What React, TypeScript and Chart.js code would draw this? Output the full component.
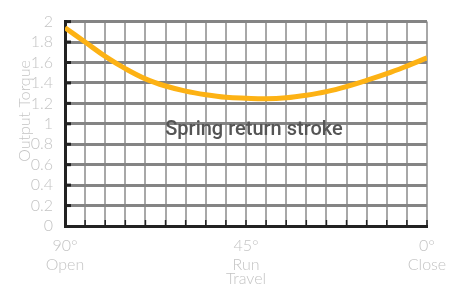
import React, { useEffect, useRef } from "react";
import { Chart, registerables } from "chart.js";

Chart.register(...registerables);

const angles = [90, 85, 80, 75, 70, 65, 60, 55, 50, 45, 40, 35, 30, 25, 20, 15, 10, 5, 0];
const torque = [1.94, 1.8, 1.66, 1.54, 1.44, 1.37, 1.32, 1.285, 1.26, 1.25, 1.245, 1.255, 1.28, 1.315, 1.365, 1.425, 1.49, 1.565, 1.645];
const xTickLabels: Record<number, string[]> = {
  90: ["90°", "Open"],
  45: ["45°", "Run"],
  0: ["0°", "Close"],
};
const yTitle = "Output Torque";
const xTitle = "Travel";
const centerText = "Spring return stroke";

const LIGHT = "#c4c4c4";
const FONT = "Lato";

const overlayPlugin = {
  id: "overlay",
  afterDatasetsDraw(chart: any) {
    const { ctx, chartArea, scales } = chart;
    ctx.save();
    ctx.strokeStyle = "#222";
    ctx.lineWidth = 3;
    scales.y.ticks.forEach((t: any) => {
      const y = scales.y.getPixelForValue(t.value);
      if (t.value === 0) return;
      ctx.beginPath();
      ctx.moveTo(chartArea.left, y);
      ctx.lineTo(chartArea.left + 6, y);
      ctx.stroke();
    });
    ctx.lineWidth = 1.5;
    scales.x.ticks.forEach((t: any) => {
      const x = scales.x.getPixelForValue(t.value);
      ctx.beginPath();
      ctx.moveTo(x, chartArea.bottom);
      ctx.lineTo(x, chartArea.bottom - 6);
      ctx.stroke();
    });
    ctx.restore();
  },
  afterDraw(chart: any) {
    const { ctx, chartArea } = chart;
    ctx.save();
    ctx.font = "500 20px Roboto";
    ctx.fillStyle = "#555";
    ctx.textAlign = "center";
    ctx.textBaseline = "alphabetic";
    ctx.fillText(centerText, (chartArea.left + chartArea.right) / 2 + 8, 135);
    // y axis title
    ctx.translate(25, 111);
    ctx.rotate(-Math.PI / 2);
    ctx.font = `300 16px ${FONT}`;
    ctx.fillStyle = LIGHT;
    ctx.textBaseline = "middle";
    ctx.fillText(yTitle, 0, 0);
    ctx.restore();
  },
};

export default function App() {
  const ref = useRef<HTMLCanvasElement>(null);
  useEffect(() => {
    const chart = new Chart(ref.current!, {
      type: "line",
      data: {
        datasets: [
          {
            data: angles.map((a, i) => ({ x: a, y: torque[i] })),
            borderColor: "#fdb214",
            borderWidth: 5,
            pointRadius: 0,
            fill: false,
            tension: 0.4,
          },
        ],
      },
      options: {
        animation: false,
        responsive: false,
        maintainAspectRatio: false,
        layout: { padding: { top: 13, right: 33, left: 0, bottom: 0 } },
        plugins: { legend: { display: false }, tooltip: { enabled: false } },
        scales: {
          x: {
            type: "linear",
            reverse: true,
            min: 0,
            max: 90,
            afterFit: (s: any) => {
              s.height = 62;
            },
            ticks: {
              stepSize: 5,
              autoSkip: false,
              maxRotation: 0,
              padding: 10,
              color: LIGHT,
              font: { family: FONT, size: 16, weight: "300" },
              callback: (v: any) => xTickLabels[v] ?? "",
            },
            grid: { color: "#a8a8a8", lineWidth: 2, drawTicks: false },
            border: { color: "#222", width: 3 },
            title: {
              display: true,
              text: xTitle,
              color: LIGHT,
              font: { family: FONT, size: 16, weight: "300" },
              padding: 0,
            },
          },
          y: {
            min: 0,
            max: 2,
            afterFit: (s: any) => {
              s.width = 65;
            },
            ticks: {
              stepSize: 0.2,
              autoSkip: false,
              padding: 12,
              color: LIGHT,
              font: { family: FONT, size: 16, weight: "300" },
              callback: (v: any) => String(Math.round(Number(v) * 10) / 10),
            },
            grid: { color: "#848484", lineWidth: 3, drawTicks: false },
            border: { color: "#222", width: 3 },
          },
        },
      },
      plugins: [overlayPlugin],
    } as any);
    return () => chart.destroy();
  }, []);
  return (
    <div style={{ position: "fixed", left: 0, top: 0, width: 460, height: 288, background: "#fff" }}>
      <canvas ref={ref} width={460} height={288} style={{ width: 460, height: 288 }} />
    </div>
  );
}
